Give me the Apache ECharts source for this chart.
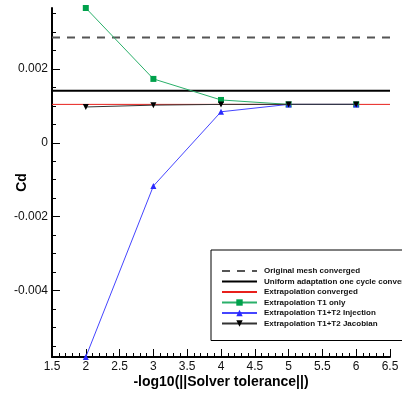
<!DOCTYPE html>
<html><head><meta charset="utf-8">
<script src="https://cdn.jsdelivr.net/npm/echarts@6/dist/echarts.min.js"></script>
<style>html,body{margin:0;padding:0;background:#fff}#c{width:402px;height:398px}</style>
</head><body><div id="c"></div>
<script>
// Data
const tolerance = [2, 3, 4, 5, 6];
const t1Only = [0.00365, 0.00173, 0.00116, 0.00104, 0.00104];
const t1t2Injection = [-0.0058, -0.00117, 0.00084, 0.00104, 0.00104];
const t1t2Jacobian = [0.00097, 0.00102, 0.00104, 0.00104, 0.00104];
const originalMesh = 0.00285;
const uniformAdapt = 0.00141;
const extrapConverged = 0.00104;
const xRange = [1.5, 6.5];
const yRange = [-0.0058, 0.00365];
const yMajorTicks = [-0.004, -0.002, 0, 0.002];
const yMinorTicks = [-0.0055, -0.005, -0.0045, -0.0035, -0.003, -0.0025, -0.0015, -0.001, -0.0005, 0.0005, 0.001, 0.0015, 0.0025, 0.003, 0.0035];
const seriesNames = [
  'Original mesh converged',
  'Uniform adaptation one cycle converged',
  'Extrapolation converged',
  'Extrapolation T1 only',
  'Extrapolation T1+T2 Injection',
  'Extrapolation T1+T2 Jacobian'
];

const pairs = ys => tolerance.map((x, i) => [x, ys[i]]);
const hline = v => xRange.map(x => [x, v]);
const font = 'Liberation Sans, Arial, sans-serif';
const noMarker = {color: 'rgba(0,0,0,0)', borderWidth: 0};

const chart = echarts.init(document.getElementById('c'), null, {renderer: 'canvas'});
chart.setOption({
  animation: false,
  backgroundColor: '#fff',
  grid: {left: 52, right: 12, top: 8, bottom: 41, containLabel: false, outerBoundsMode: 'none'},
  legend: {
    orient: 'vertical', left: 211, top: 250,
    data: seriesNames.map((n, i) => i < 3 ? {name: n, itemStyle: noMarker} : {name: n}),
    selectedMode: false,
    iconRotate: 'inherit',
    backgroundColor: '#fff', borderColor: '#000', borderWidth: 1, borderRadius: 0,
    padding: [17, 60, 13, 10],
    itemWidth: 35, itemHeight: 8, itemGap: 2.5,
    textStyle: {fontSize: 8, fontWeight: 'bold', color: '#111', fontFamily: font, padding: [0, 0, 0, 2]}
  },
  xAxis: {
    type: 'value', min: xRange[0], max: xRange[1], interval: 0.5,
    name: '-log10(||Solver tolerance||)', nameLocation: 'middle', nameGap: 18, nameMoveOverlap: false,
    nameTextStyle: {fontSize: 14, fontWeight: 'bold', color: '#000', fontFamily: font},
    axisLine: {show: true, onZero: false, lineStyle: {color: '#000', width: 2}},
    axisTick: {show: true, inside: true, length: 8, lineStyle: {color: '#000', width: 1}},
    minorTick: {show: true, splitNumber: 5, length: 4, lineStyle: {color: '#000', width: 1}},
    axisLabel: {fontSize: 12, color: '#111', fontFamily: font, margin: 4},
    splitLine: {show: false}
  },
  yAxis: [{
    type: 'value', min: yRange[0], max: yRange[1], position: 'left',
    name: 'Cd', nameLocation: 'middle', nameGap: 23, nameRotate: 90, nameMoveOverlap: false,
    nameTextStyle: {fontSize: 14, fontWeight: 'bold', color: '#000', fontFamily: font},
    axisLine: {show: true, onZero: false, lineStyle: {color: '#000', width: 2}},
    axisTick: {show: true, inside: true, length: 8, customValues: yMajorTicks, lineStyle: {color: '#000', width: 1}},
    axisLabel: {fontSize: 12, color: '#111', fontFamily: font, margin: 4, customValues: yMajorTicks,
      formatter: v => String(Math.round(v * 1000) / 1000)},
    splitLine: {show: false}
  }, {
    type: 'value', min: yRange[0], max: yRange[1], position: 'left', offset: 0,
    axisLine: {show: false},
    axisTick: {show: true, inside: true, length: 4, customValues: yMinorTicks, lineStyle: {color: '#000', width: 1}},
    axisLabel: {show: false},
    splitLine: {show: false}
  }],
  series: [
    {name: seriesNames[0], type: 'line', data: hline(originalMesh), symbol: 'none',
      lineStyle: {color: '#555', width: 2, type: [8, 7]}, itemStyle: {color: '#555'}, z: 2},
    {name: seriesNames[1], type: 'line', data: hline(uniformAdapt), symbol: 'none',
      lineStyle: {color: '#000', width: 2}, itemStyle: {color: '#000'}, z: 2},
    {name: seriesNames[2], type: 'line', data: hline(extrapConverged), symbol: 'none',
      lineStyle: {color: '#e8201c', width: 1}, itemStyle: {color: '#e8201c'}, z: 3},
    {name: seriesNames[3], type: 'line', data: pairs(t1Only), symbol: 'rect', symbolSize: 6, clip: false,
      lineStyle: {color: '#2ab06a', width: 1}, itemStyle: {color: '#00a14b'}, z: 4},
    {name: seriesNames[4], type: 'line', data: pairs(t1t2Injection), symbol: 'triangle', symbolSize: 6, clip: false,
      lineStyle: {color: '#4545ff', width: 1}, itemStyle: {color: '#2a2aff'}, z: 5},
    {name: seriesNames[5], type: 'line', data: pairs(t1t2Jacobian), symbol: 'triangle', symbolRotate: 180, symbolSize: 6, clip: false,
      lineStyle: {color: '#333', width: 1}, itemStyle: {color: '#000'}, z: 6}
  ]
});
</script>
</body></html>
